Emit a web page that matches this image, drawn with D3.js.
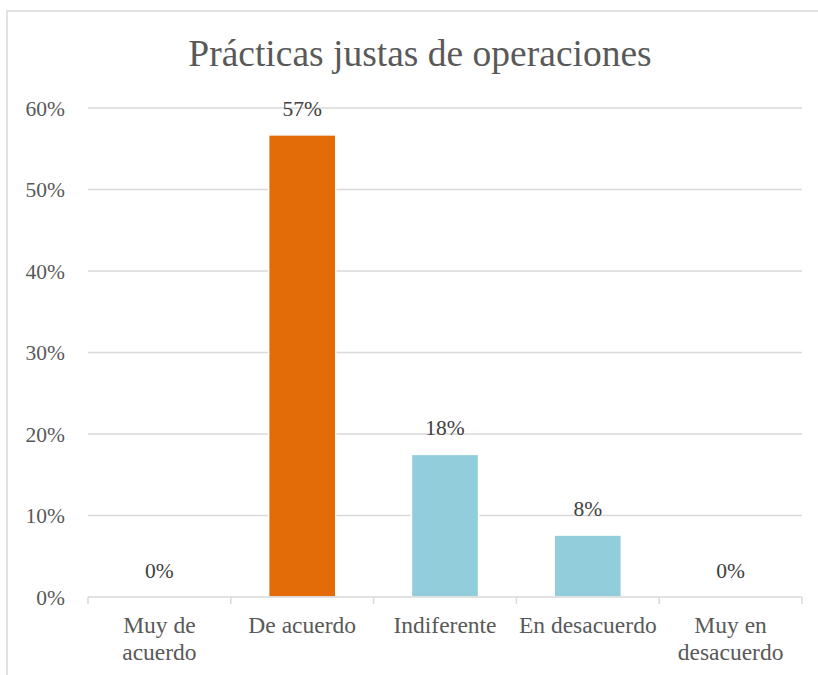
<!DOCTYPE html>
<html>
<head>
<meta charset="utf-8">
<script src="https://cdn.jsdelivr.net/npm/d3@7.9.0/dist/d3.min.js"></script>
<style>
  html, body { margin: 0; padding: 0; background: #fff; }
  svg { display: block; }
  svg text { font-family: "Times New Roman", "Liberation Serif", serif; }
</style>
</head>
<body>
<svg id="chart" width="818" height="675"></svg>
<script>
// chart data
const title = 'Prácticas justas de operaciones';
const categories = ['Muy de acuerdo', 'De acuerdo', 'Indiferente', 'En desacuerdo', 'Muy en desacuerdo'];
const values = [0, 0.567, 0.175, 0.076, 0];
const barColors = ['#92CDDC', '#E36C09', '#92CDDC', '#92CDDC', '#92CDDC'];
const yTicks = [0, 0.1, 0.2, 0.3, 0.4, 0.5, 0.6];

const textColor = '#595959';
const lineColor = '#D9D9D9';
const pct = d3.format('.0%');

const svg = d3.select('#chart');

// outer frame (runs off the right and bottom of the picture)
svg.append('rect')
  .attr('x', 7).attr('y', 11)
  .attr('width', 830).attr('height', 700)
  .attr('fill', '#fff')
  .attr('stroke', lineColor)
  .attr('stroke-width', 1.5);

const x = d3.scaleBand()
  .domain(categories)
  .range([88, 802])
  .paddingInner(0.53)
  .paddingOuter(0.265);

const y = d3.scaleLinear()
  .domain([0, 0.6])
  .range([597, 108]);

// title
svg.append('text')
  .attr('x', 420).attr('y', 66)
  .attr('text-anchor', 'middle')
  .attr('fill', textColor)
  .style('font-size', '37.5px')
  .text(title);

// gridlines
svg.append('g')
  .selectAll('line')
  .data(yTicks.filter(d => d > 0))
  .join('line')
  .attr('x1', 88).attr('x2', 802)
  .attr('y1', d => y(d)).attr('y2', d => y(d))
  .attr('stroke', lineColor)
  .attr('stroke-width', 1.5);

// y tick labels
svg.append('g')
  .selectAll('text')
  .data(yTicks)
  .join('text')
  .attr('x', 65)
  .attr('y', d => y(d))
  .attr('dy', '0.35em')
  .attr('text-anchor', 'end')
  .attr('fill', textColor)
  .style('font-size', '21.5px')
  .text(d => pct(d));

// bars
svg.append('g')
  .selectAll('rect')
  .data(values)
  .join('rect')
  .attr('x', (d, i) => x(categories[i]))
  .attr('y', d => y(d))
  .attr('width', x.bandwidth())
  .attr('height', d => y(0) - y(d))
  .attr('fill', (d, i) => barColors[i])
  .attr('stroke', '#fff')
  .attr('stroke-width', d => d > 0 ? 1.5 : 0);

// x axis line + ticks at band edges
svg.append('line')
  .attr('x1', 88).attr('x2', 802)
  .attr('y1', y(0)).attr('y2', y(0))
  .attr('stroke', lineColor)
  .attr('stroke-width', 1.5);

const edges = d3.range(categories.length + 1).map(i => 88 + i * x.step());
svg.append('g')
  .selectAll('line')
  .data(edges)
  .join('line')
  .attr('x1', d => d).attr('x2', d => d)
  .attr('y1', y(0)).attr('y2', y(0) + 7)
  .attr('stroke', lineColor)
  .attr('stroke-width', 1.5);

// data labels
svg.append('g')
  .selectAll('text')
  .data(values)
  .join('text')
  .attr('x', (d, i) => x(categories[i]) + x.bandwidth() / 2)
  .attr('y', d => y(d) - 19)
  .attr('text-anchor', 'middle')
  .attr('fill', '#404040')
  .style('font-size', '21.5px')
  .text(d => pct(d));

// category labels, wrapped to the band width
const catLabels = svg.append('g')
  .selectAll('text')
  .data(categories)
  .join('text')
  .attr('x', d => x(d) + x.bandwidth() / 2)
  .attr('y', 633)
  .attr('text-anchor', 'middle')
  .attr('fill', textColor)
  .style('font-size', '23.5px');

catLabels.each(function (d) {
  const text = d3.select(this);
  const cx = +text.attr('x');
  const words = d.split(' ');
  const lines = [];
  let line = [];
  const probe = text.append('tspan');
  words.forEach(w => {
    probe.text(line.concat(w).join(' '));
    if (line.length && probe.node().getComputedTextLength() > x.step() + 2) {
      lines.push(line.join(' '));
      line = [w];
    } else {
      line.push(w);
    }
  });
  lines.push(line.join(' '));
  probe.remove();
  lines.forEach((l, i) => {
    text.append('tspan')
      .attr('x', cx)
      .attr('dy', i === 0 ? 0 : 27)
      .text(l);
  });
});
</script>
</body>
</html>
